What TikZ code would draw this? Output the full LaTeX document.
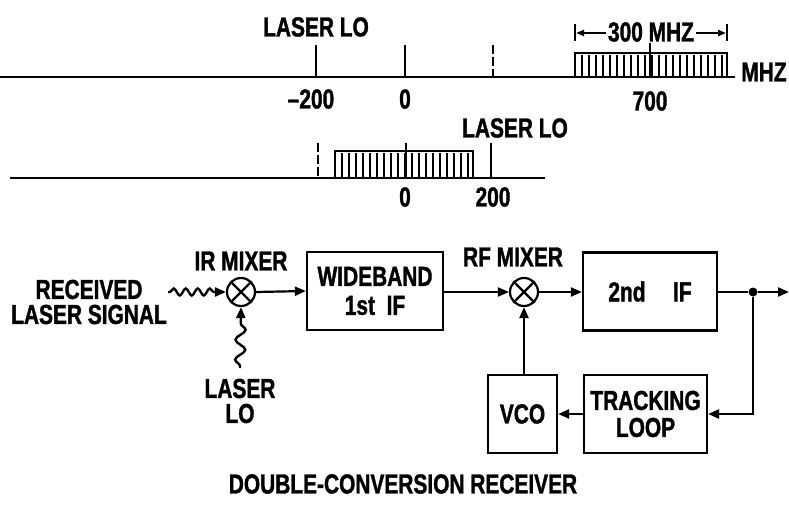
\documentclass[tikz,border=0pt]{standalone}
\usepackage{fontspec}
\setmainfont{Liberation Sans}[FakeStretch=0.76, BoldFeatures={FakeBold=1.3}]
\usetikzlibrary{arrows.meta,decorations.pathmorphing}
\tikzset{
  lbl/.style={inner sep=0pt, align=center, font=\fontsize{27.5}{25}\selectfont\bfseries},
  blk/.style={draw, line width=2.2pt, minimum height=78pt, align=center, inner sep=0pt, font=\fontsize{27.5}{27}\selectfont\bfseries},
  mix/.style={draw, circle, line width=2.2pt, minimum size=28pt, inner sep=0pt},
  sig/.style={line width=2.2pt, -{Triangle[length=11pt,width=9pt]}},
  wave/.style={line width=2.4pt, -{Triangle[length=11pt,width=9pt]}, decorate,
    decoration={snake, segment length=12pt, amplitude=3.5pt, pre length=2pt, post length=11pt}},
  axis/.style={line width=2.4pt},
  tick/.style={line width=2.4pt},
  dtick/.style={line width=2.4pt, dash pattern=on 9pt off 3pt on 9pt off 3pt},
  band/.style={line width=2.2pt},
  bar/.style={line width=1.8pt},
  dim/.style={line width=1.8pt, -{Triangle[length=8pt,width=6pt]}},
}
\begin{document}
\begin{tikzpicture}[x=1pt,y=-1pt]
\useasboundingbox (0,0) rectangle (789,508);

% ---------- top spectrum ----------
\draw[axis] (0,77) -- (735,77);
\draw[tick] (316,45) -- (316,77);
\draw[tick] (405,45) -- (405,77);
\draw[dtick] (493,45) -- (493,77);
\draw[band] (575,77) -- (575,53) -- (727,53) -- (727,77);
\foreach \x in {582,589,...,722} \draw[bar] (\x,55) -- (\x,77);
\draw[tick] (650,43) -- (650,77);
\draw[line width=1.8pt] (575,24) -- (575,41);
\draw[line width=1.8pt] (727,24) -- (727,41);
\node[lbl] (bw) at (651,32) {300 MHZ};
\coordinate (bwl) at (576,33);
\coordinate (bwr) at (726,33);
\draw[dim] (bw.west) ++(-2,1) -- (bwl);
\draw[dim] (bw.east) ++(2,1) -- (bwr);
\node[lbl] (mhz) at (764,72) {MHZ};
\node[lbl] (lo1) at (316,27) {LASER LO};
\node[lbl] (m200) at (311,99) {\textendash 200};
\node[lbl] (z1) at (405,99) {0};
\node[lbl] (s700) at (650,101) {700};

% ---------- second spectrum ----------
\draw[axis] (10,178) -- (545,178);
\draw[dtick] (318,143) -- (318,178);
\draw[band] (335,178) -- (335,151) -- (473,151) -- (473,178);
\foreach \x in {342,349,...,468} \draw[bar] (\x,153) -- (\x,178);
\draw[tick] (406,143) -- (406,178);
\draw[tick] (491,143) -- (491,178);
\node[lbl] (lo2) at (515,128) {LASER LO};
\node[lbl] (z2) at (405,197) {0};
\node[lbl] (s200) at (493,197) {200};

% ---------- block diagram ----------
\node[lbl] (rec) at (89,302) {RECEIVED\\LASER SIGNAL};
\node[mix] (irm) at (241,292) {};
\draw[line width=2.2pt] (irm.north west) -- (irm.south east) (irm.north east) -- (irm.south west);
\node[lbl] (irml) at (241,261) {IR MIXER};
\node[lbl] (lo3) at (240,401) {LASER\\LO};
\coordinate (recend) at (168,292);
\coordinate (loend) at (240,368);
\draw[wave] (recend) -- (irm.west);
\draw[wave, decoration={snake, segment length=20pt, amplitude=5pt, pre length=2pt, post length=11pt}] (loend) -- (irm.south);

\node[blk, minimum width=136pt] (wb) at (375,291) {WIDEBAND\\[2pt]1st\ \ IF};
\draw[sig] (irm.east) -- (wb.west);

\node[mix] (rfm) at (524,292) {};
\draw[line width=2.2pt] (rfm.north west) -- (rfm.south east) (rfm.north east) -- (rfm.south west);
\node[lbl] (rfml) at (513,257) {RF MIXER};
\draw[sig] (wb.east |- rfm.west) -- (rfm.west);

\node[blk, minimum width=134pt] (if2) at (650,291.5) {2nd\quad IF};
\draw[sig] (rfm.east) -- (if2.west |- rfm.east);

\node[circle, fill, inner sep=0pt, minimum size=9pt] (dot) at (753,292) {};
\coordinate (out) at (789,292);
\draw[line width=2.2pt] (if2.east |- dot) -- (dot);
\draw[sig] (dot) -- (out);

\node[blk, minimum width=123pt] (trk) at (645.5,414) {TRACKING\\LOOP};
\node[blk, minimum width=69pt] (vco) at (522.5,414) {VCO};
\draw[sig] (dot) |- (trk.east);
\draw[sig] (trk.west) -- (vco.east);
\draw[sig] (vco.north -| rfm.south) -- (rfm.south);

\node[lbl] (title) at (403,484) {DOUBLE-CONVERSION RECEIVER};
\end{tikzpicture}
\end{document}
